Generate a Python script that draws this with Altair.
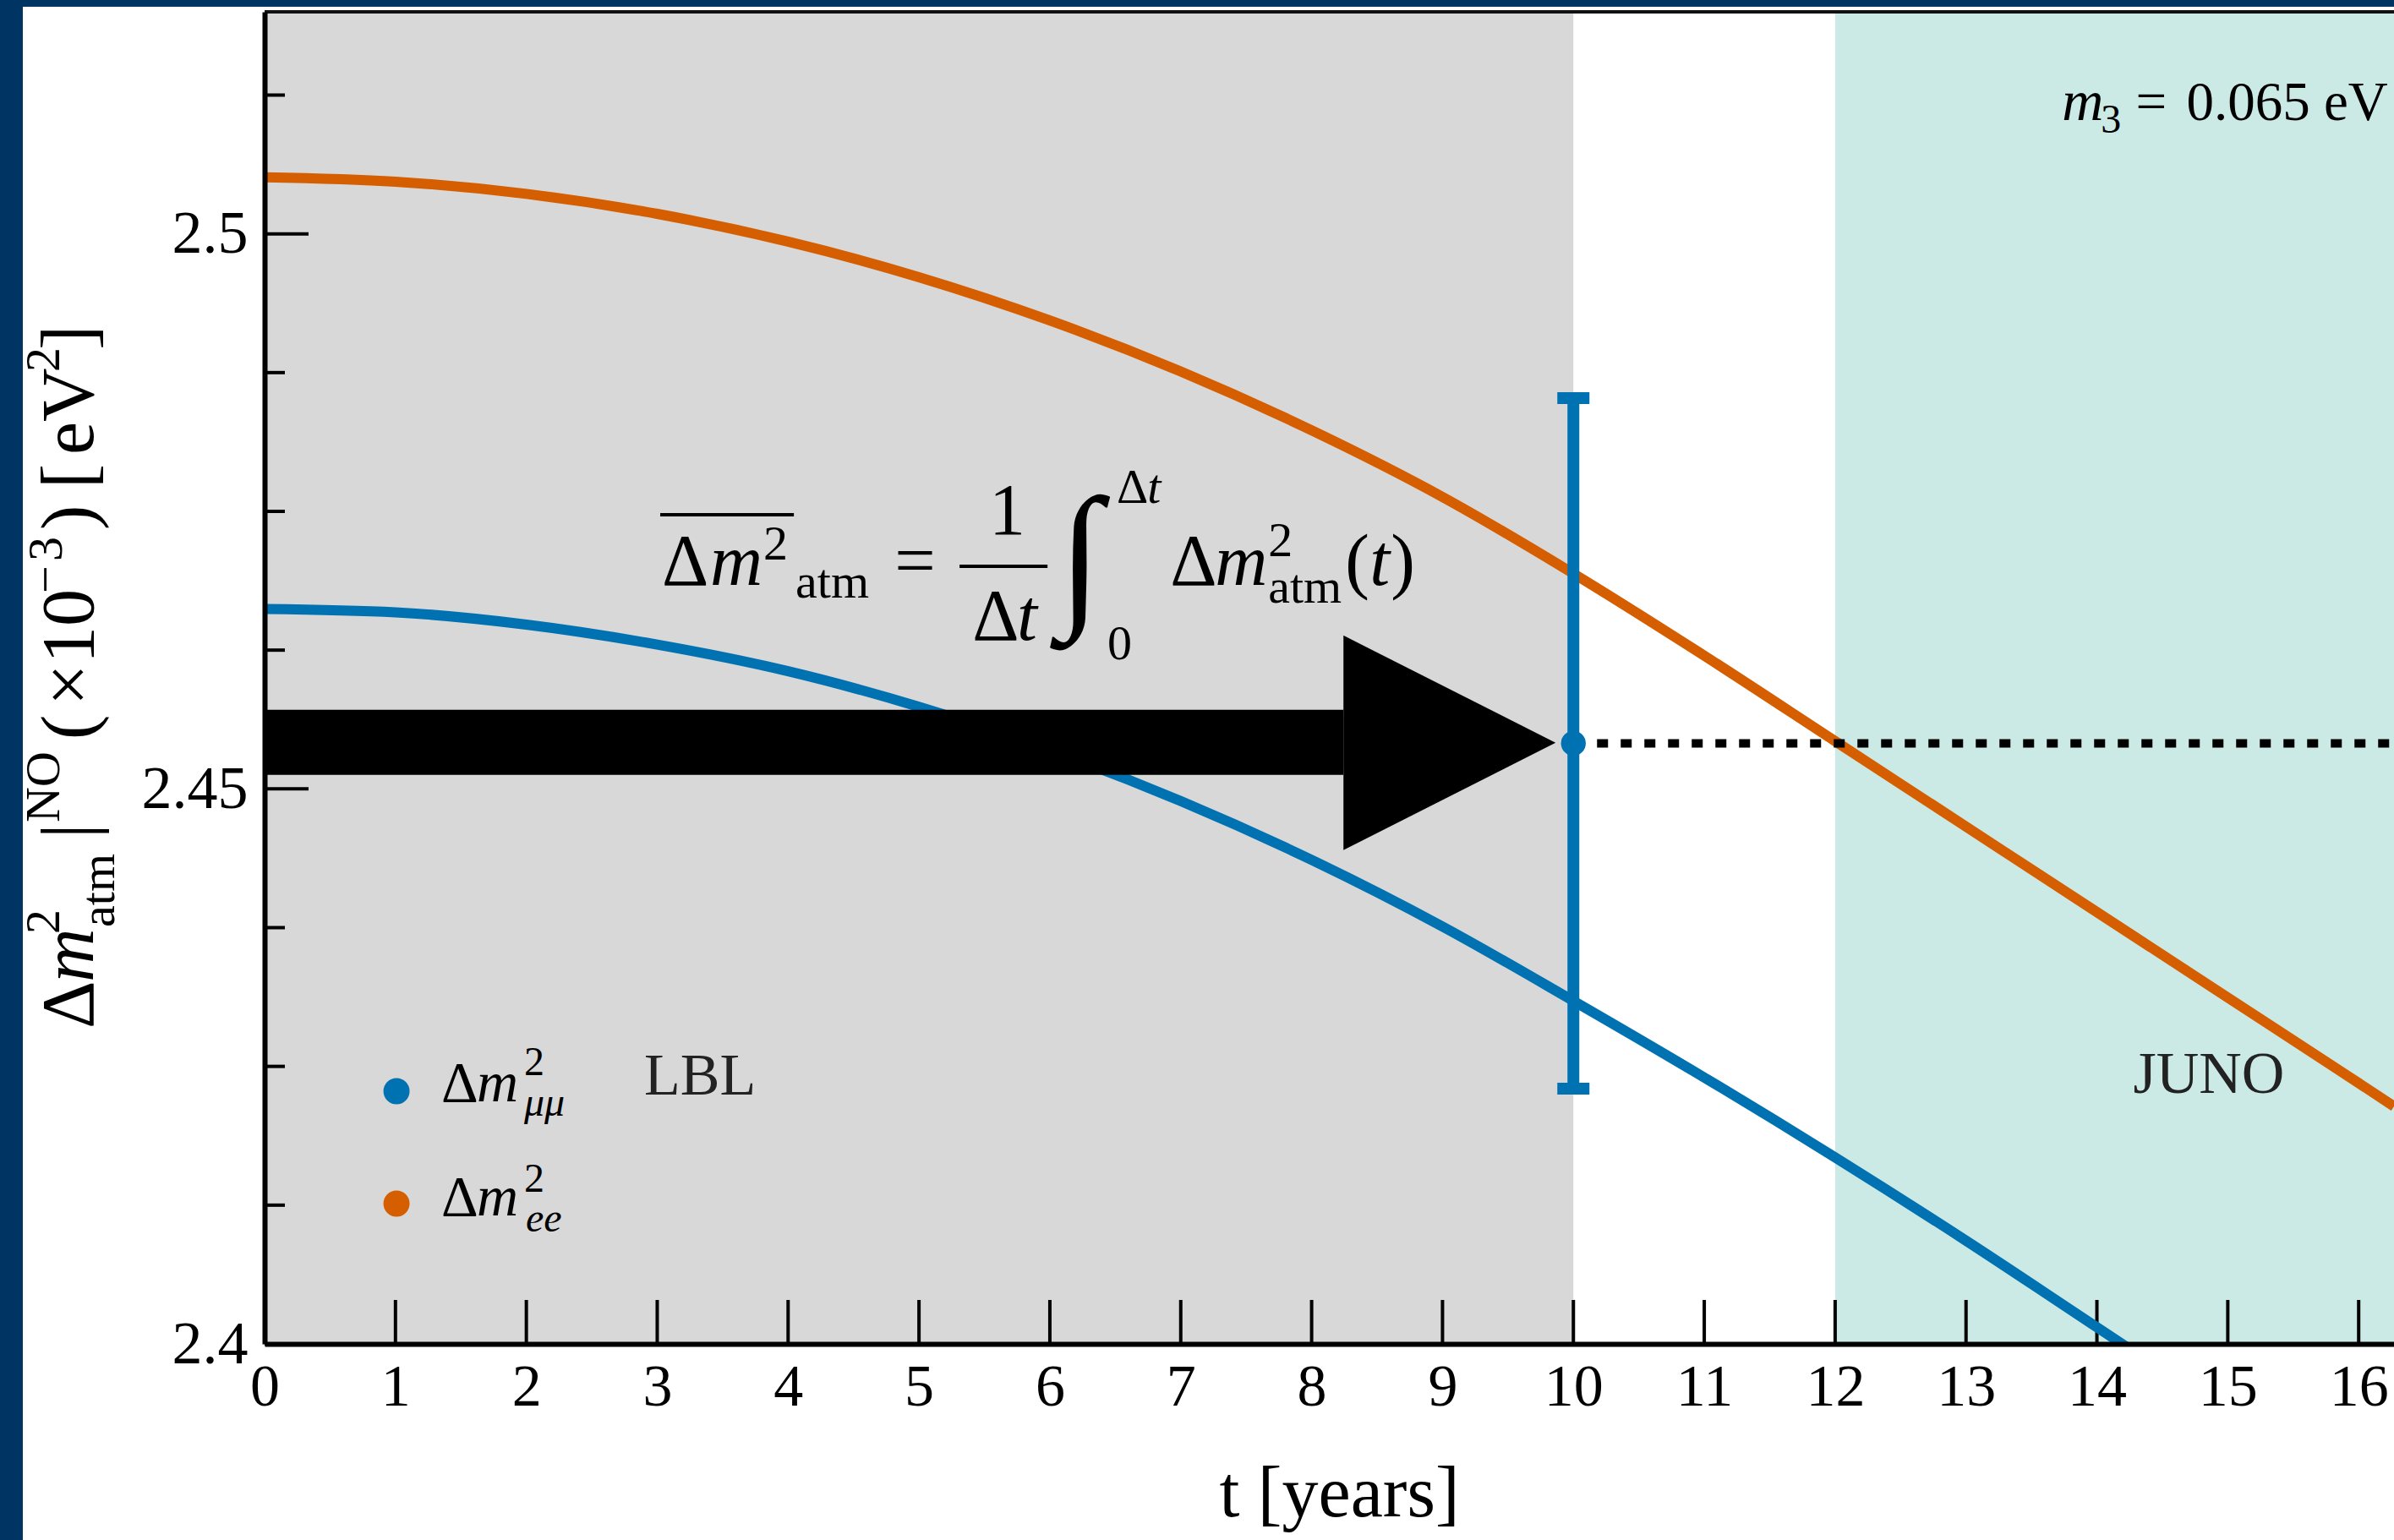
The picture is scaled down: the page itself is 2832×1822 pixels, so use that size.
import altair as alt
import pandas as pd

# ------------------------------------------------------------------ data
years = [0, 1, 2, 3, 4, 5, 6, 7, 8, 9, 10, 11, 12, 13, 14, 15, 16, 16.27]
dm2_mumu = [2.4662, 2.4659, 2.4648, 2.4630, 2.4606, 2.4574, 2.4535, 2.4489, 2.4436,
            2.4376, 2.4309, 2.4240, 2.4168, 2.4093, 2.4015, 2.3937, 2.3859, 2.3838]
dm2_ee = [2.5051, 2.5047, 2.5036, 2.5018, 2.4993, 2.4961, 2.4922, 2.4876, 2.4823,
          2.4763, 2.4694, 2.4620, 2.4543, 2.4466, 2.4389, 2.4312, 2.4235, 2.4214]
series_names = ["Δm²_μμ", "Δm²_ee"]
series_colors = ["#0072b2", "#d55e00"]

x_ticks = list(range(17))
y_major = [2.4, 2.45, 2.5]
y_minor = [2.4125, 2.425, 2.4375, 2.4625, 2.475, 2.4875, 2.5125]

lbl_period = [0, 10]
juno_period = [12, 16.27]

avg_t = [10]
avg_value = [2.4541]
avg_err = [0.0311]

# ------------------------------------------------------------------ layout
X_MAX = 16.27
Y_MIN, Y_MAX = 2.4, 2.52
W, H = 2519, 1576
FONT = "Liberation Serif"
DARK = "#003462"
GREY = "#d8d8d8"
TEAL = "#cbe9e5"

xs = alt.Scale(domain=[0, X_MAX], nice=False, zero=False)
ys = alt.Scale(domain=[Y_MIN, Y_MAX], nice=False, zero=False)
x_axis = alt.Axis(values=x_ticks, ticks=False, tickSize=0, grid=False, domain=True,
                  domainWidth=6, domainColor="black", labelFont=FONT, labelFontSize=70,
                  labelColor="black", labelPadding=17, labelFlush=False, labelOverlap=False,
                  title="t [years]", titleFont=FONT, titleFontSize=86, titleFontWeight="normal",
                  titleColor="black", titleX=1271, titleY=203, titleBaseline="alphabetic",
                  zindex=1)
y_axis = alt.Axis(values=y_major, format=".2~f", ticks=False, tickSize=0, grid=False,
                  domain=True, domainWidth=6, domainColor="black", labelFont=FONT,
                  labelFontSize=72, labelColor="black", labelPadding=20, labelFlush=False,
                  labelOverlap=False, title=None, zindex=1)


def X(field="t"):
    return alt.X(f"{field}:Q", scale=xs, axis=x_axis)


def Y(field="v"):
    return alt.Y(f"{field}:Q", scale=ys, axis=y_axis)


one = pd.DataFrame({"k": [0]})

# decorative frame (dark-blue slide border)
border_left = alt.Chart(one).mark_rect(color=DARK).encode(
    x=alt.value(-313), x2=alt.value(-286), y=alt.value(-14), y2=alt.value(1808))
border_top = alt.Chart(one).mark_rect(color=DARK).encode(
    x=alt.value(-313), x2=alt.value(W), y=alt.value(-14), y2=alt.value(-6))
top_frame = alt.Chart(one).mark_rule(color="#111111", strokeWidth=4).encode(
    x=alt.value(0), x2=alt.value(W), y=alt.value(0))

# shaded periods
lbl_shade = alt.Chart(pd.DataFrame({"t": [lbl_period[0]], "t2": [lbl_period[1]]})).mark_rect(
    color=GREY).encode(x=X("t"), x2="t2", y=alt.value(0), y2=alt.value(H))
juno_shade = alt.Chart(pd.DataFrame({"t": [juno_period[0]], "t2": [juno_period[1]]})).mark_rect(
    color=TEAL).encode(x=X("t"), x2="t2", y=alt.value(0), y2=alt.value(H))

# inward ticks
xt = alt.Chart(pd.DataFrame({"t": x_ticks})).mark_rule(color="black", strokeWidth=4).encode(
    x=X("t"), y=alt.value(H), y2=alt.value(H - 52))
yt_major = alt.Chart(pd.DataFrame({"v": y_major})).mark_rule(color="black", strokeWidth=4).encode(
    y=Y("v"), x=alt.value(0), x2=alt.value(52))
yt_minor = alt.Chart(pd.DataFrame({"v": y_minor})).mark_rule(color="black", strokeWidth=4).encode(
    y=Y("v"), x=alt.value(0), x2=alt.value(24))

# curves
curve_df = pd.DataFrame({
    "t": years * 2,
    "v": dm2_mumu + dm2_ee,
    "series": [series_names[0]] * len(years) + [series_names[1]] * len(years),
})
color_enc = alt.Color("series:N", scale=alt.Scale(domain=series_names, range=series_colors),
                      legend=None)
curves = alt.Chart(curve_df).mark_line(strokeWidth=12, interpolate="monotone", clip=True).encode(
    x=X("t"), y=Y("v"), color=color_enc, detail="series:N")

# big arrow (annotation)
arrow_body = alt.Chart(pd.DataFrame({"t": [0], "t2": [8.243], "v": [2.45126], "v2": [2.45712]})
                       ).mark_rect(color="black").encode(x=X("t"), x2="t2", y=Y("v"), y2="v2")
arrow_head = alt.Chart(pd.DataFrame({"t": [8.243, 9.864], "v": [2.44448, 2.45415],
                                     "v2": [2.46382, 2.45415]})
                       ).mark_area(color="black", opacity=1).encode(x=X("t"), y=Y("v"), y2="v2")

# averaged value with error bar
err_df = pd.DataFrame({"t": avg_t, "v": avg_value,
                       "lo": [a - e for a, e in zip(avg_value, avg_err)],
                       "hi": [a + e for a, e in zip(avg_value, avg_err)],
                       "t2": [X_MAX]})
dotted = alt.Chart(err_df).mark_rule(color="black", strokeWidth=10, strokeDash=[13, 15],
                                     strokeCap="butt").encode(x=X("t"), x2="t2", y=Y("v"))
err_rule = alt.Chart(err_df).mark_rule(color=series_colors[0], strokeWidth=14).encode(
    x=X("t"), y=Y("lo"), y2="hi")
cap_df = pd.DataFrame({"t": avg_t * 2, "v": [err_df.lo[0], err_df.hi[0]]})
err_caps = alt.Chart(cap_df).mark_tick(color=series_colors[0], orient="horizontal", size=38,
                                       thickness=14, opacity=1).encode(x=X("t"), y=Y("v"))
err_dot = alt.Chart(err_df).mark_point(filled=True, size=860, opacity=1,
                                       color=series_colors[0]).encode(x=X("t"), y=Y("v"))

# legend dots
leg_df = pd.DataFrame({"t": [1.008, 1.008], "v": [2.42277, 2.41264], "series": series_names})
leg_dots = alt.Chart(leg_df).mark_point(filled=True, size=960, opacity=1).encode(
    x=X("t"), y=Y("v"), color=color_enc)

# rich text pieces: (text, t, v, font size)
upright = [
    ("Δ", 3.036, 2.46838, 86), ("2", 3.811, 2.47066, 58), ("atm", 4.057, 2.46724, 58),
    ("=", 4.813, 2.46838, 86), ("1", 5.536, 2.47295, 86), ("Δ", 5.407, 2.46343, 86),
    ("∫", 6.065, 2.46630, 188), ("Δ", 6.510, 2.47576, 58), ("0", 6.440, 2.46168, 58),
    ("Δ", 6.919, 2.46838, 86), ("2", 7.668, 2.47097, 58), ("atm", 7.668, 2.46678, 58),
    ("(", 8.256, 2.46838, 86), (")", 8.605, 2.46838, 86),
    ("Δ", 1.350, 2.42185, 68), ("2", 1.983, 2.42421, 48),
    ("Δ", 1.350, 2.41157, 68), ("2", 1.983, 2.41371, 48),
    ("=", 14.296, 2.51026, 65), ("0.065 eV", 14.684, 2.51026, 65), ("3", 14.031, 2.50911, 48),
]
italic = [
    ("m", 3.404, 2.46838, 86), ("t", 5.749, 2.46343, 86), ("t", 6.744, 2.47576, 58),
    ("m", 7.261, 2.46838, 86), ("t", 8.443, 2.46838, 86),
    ("m", 1.621, 2.42185, 68), ("μμ", 1.983, 2.42056, 48),
    ("m", 1.621, 2.41157, 68), ("ee", 1.996, 2.41013, 48),
    ("m", 13.734, 2.51026, 68),
]
region_labels = [("LBL", 2.900, 2.42246, 70), ("JUNO", 14.277, 2.42261, 70)]
ytitle_upright = [
    ("Δ", -1.311, 2.42840, 88), ("2", -1.570, 2.43693, 58), ("atm", -1.150, 2.43754, 58),
    ("|", -1.311, 2.44553, 88), ("NO", -1.570, 2.44698, 58), ("(", -1.311, 2.45444, 88),
    ("×", -1.311, 2.45749, 88), ("10", -1.311, 2.46130, 88), ("−", -1.550, 2.46762, 58),
    ("3", -1.550, 2.47051, 58), (")", -1.311, 2.47333, 88), ("[", -1.311, 2.47706, 88),
    ("eV", -1.311, 2.48010, 88), ("2", -1.570, 2.48757, 58), ("]", -1.311, 2.48955, 88),
]
ytitle_italic = [("m", -1.311, 2.43259, 88)]


def text_layer(pieces, style="normal", angle=0, color="black"):
    df = pd.DataFrame(pieces, columns=["text", "t", "v", "fs"])
    return alt.Chart(df).mark_text(align="left", baseline="alphabetic", font=FONT,
                                   fontStyle=style, angle=angle, color=color).encode(
        x=X("t"), y=Y("v"), text="text:N", size=alt.Size("fs:Q", scale=None, legend=None))


rule_df = pd.DataFrame({"t": [3.023, 5.310], "t2": [4.044, 5.982], "v": [2.47470, 2.47005]})
formula_rules = alt.Chart(rule_df).mark_rule(color="black", strokeWidth=4).encode(
    x=X("t"), x2="t2", y=Y("v"))

chart = alt.layer(
    border_left, border_top, lbl_shade, juno_shade, xt, yt_major, yt_minor, curves,
    arrow_body, arrow_head, dotted, err_rule, err_caps, err_dot, leg_dots,
    text_layer(upright), text_layer(italic, "italic"),
    text_layer(region_labels, color="#222222"),
    text_layer(ytitle_upright, angle=270), text_layer(ytitle_italic, "italic", angle=270),
    formula_rules, top_frame,
).properties(
    width=W, height=H,
    padding={"left": 313, "top": 14, "right": 0, "bottom": 232},
    autosize=alt.AutoSizeParams(type="none"),
    background="white",
).configure_view(stroke=None)

chart.save("out.html", embed_options={"renderer": "svg", "actions": False})
